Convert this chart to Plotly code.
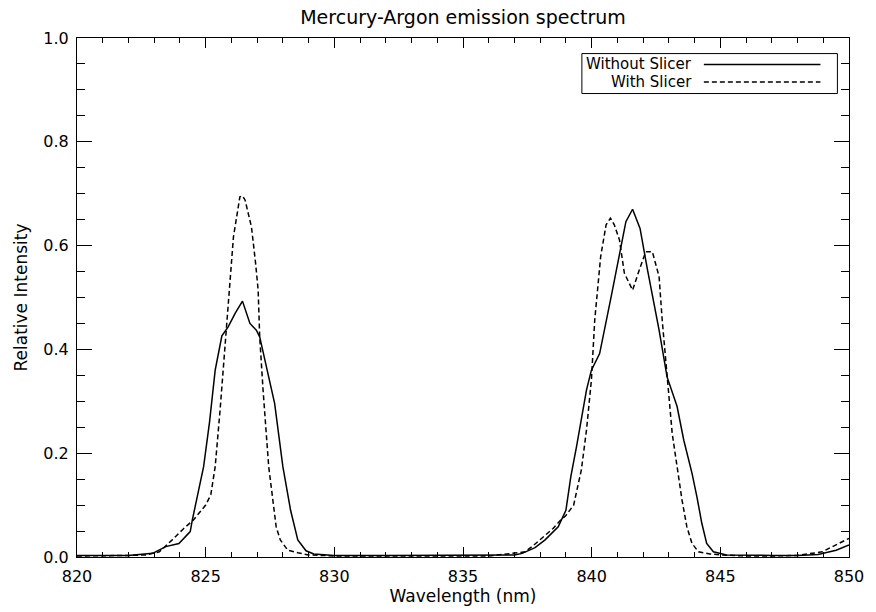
import plotly.graph_objects as go

# Mercury-Argon lamp spectrum, measured without and with the image slicer
wl_without = [820, 821, 822, 822.94, 823.45, 823.96, 824.4, 824.48, 824.7, 824.92,
              825.15, 825.37, 825.63, 825.88, 826.15, 826.43, 826.72, 826.97, 827.1,
              827.36, 827.68, 828.0, 828.3, 828.58, 828.9, 829.2, 829.6, 830, 832, 834,
              836, 837.0, 837.3, 837.8, 838.19, 838.45, 838.7, 839.0, 839.19, 839.41,
              839.6, 839.8, 839.99, 840.31, 840.76, 841.14, 841.33, 841.59, 841.88,
              842.17, 842.62, 842.93, 843.32, 843.58, 843.9, 844.09, 844.28, 844.47,
              844.73, 845.24, 846, 847, 848, 848.8, 849.5, 850]
int_without = [0.003, 0.003, 0.003, 0.007, 0.02, 0.026, 0.049, 0.071, 0.12, 0.174,
               0.26, 0.36, 0.426, 0.444, 0.47, 0.493, 0.45, 0.437, 0.424,
               0.367, 0.296, 0.174, 0.09, 0.033, 0.012, 0.006, 0.004, 0.003, 0.003, 0.003,
               0.003, 0.004, 0.007, 0.018, 0.033, 0.045, 0.058, 0.09, 0.155, 0.212,
               0.265, 0.322, 0.36, 0.392, 0.502, 0.598, 0.646, 0.670, 0.633,
               0.553, 0.437, 0.347, 0.29, 0.225, 0.161, 0.116, 0.065, 0.026,
               0.01, 0.004, 0.003, 0.003, 0.003, 0.005, 0.013, 0.023]

wl_with = [820, 821, 822, 822.68, 823.2, 823.7, 824.15, 824.5, 825.0, 825.2, 825.37,
           825.56, 825.76, 825.88, 826.08, 826.33, 826.43, 826.53, 826.78, 826.94,
           827.04, 827.1, 827.23, 827.45, 827.74, 827.9, 828.19, 828.58, 829, 830, 832,
           834, 836, 836.91, 837.42, 837.8, 838.19, 838.5, 838.77, 839.0, 839.3, 839.5,
           839.6, 839.8, 839.99, 840.12, 840.35, 840.56, 840.73, 840.88, 841.08, 841.27,
           841.59, 841.85, 842.1, 842.36, 842.62, 842.74, 842.93, 843.13, 843.32, 843.51,
           843.7, 843.9, 844.15, 844.6, 845, 846, 847, 848, 848.96, 849.47, 850]
int_with = [0.002, 0.002, 0.003, 0.004, 0.01, 0.033, 0.055, 0.07, 0.1, 0.12, 0.174,
            0.283, 0.41, 0.489, 0.617, 0.694, 0.696, 0.688, 0.636, 0.566,
            0.514, 0.424, 0.322, 0.174, 0.058, 0.033, 0.013, 0.008, 0.004, 0.002, 0.002,
            0.002, 0.002, 0.007, 0.01, 0.025, 0.042, 0.055, 0.07, 0.08, 0.1, 0.148,
            0.168, 0.245, 0.341, 0.457, 0.579, 0.64, 0.653, 0.64, 0.611, 0.547,
            0.514, 0.553, 0.588, 0.588, 0.54, 0.457, 0.347, 0.238, 0.174, 0.11,
            0.058, 0.026, 0.01, 0.006, 0.004, 0.002, 0.002, 0.003, 0.01, 0.023, 0.036]

series_names = ["Without Slicer", "With Slicer"]
x_ticks = [820, 825, 830, 835, 840, 845, 850]
y_ticks = [0.0, 0.2, 0.4, 0.6, 0.8, 1.0]

FONT = "DejaVu Sans"
LINE_W = 1.5
DASH = "5px,3px"

fig = go.Figure()
fig.add_trace(go.Scatter(x=wl_without, y=int_without, mode="lines",
                         name=series_names[0], showlegend=False,
                         line=dict(color="black", width=LINE_W)))
fig.add_trace(go.Scatter(x=wl_with, y=int_with, mode="lines",
                         name=series_names[1], showlegend=False,
                         line=dict(color="black", width=LINE_W, dash=DASH)))

# Boxed key in the upper right: right-aligned labels followed by line samples
box_x0, box_x1, box_y0, box_y1 = 0.654, 0.985, 0.893, 0.970
label_x = 0.799
sample_x0, sample_x1 = 0.812, 0.963
rows_y = [0.949, 0.915]
styles = [None, DASH]

shapes = [dict(type="rect", xref="paper", yref="paper",
               x0=box_x0, x1=box_x1, y0=box_y0, y1=box_y1,
               line=dict(color="black", width=1), fillcolor="white", layer="above")]
annotations = []
for name, ry, dash in zip(series_names, rows_y, styles):
    line = dict(color="black", width=LINE_W)
    if dash:
        line["dash"] = dash
    shapes.append(dict(type="line", xref="paper", yref="paper",
                       x0=sample_x0, x1=sample_x1, y0=ry, y1=ry,
                       line=line, layer="above"))
    annotations.append(dict(text=name, xref="paper", yref="paper",
                            x=label_x, y=ry, xanchor="right", yanchor="middle",
                            showarrow=False, font=dict(family=FONT, size=15, color="black")))

axis_common = dict(showline=True, linecolor="black", linewidth=1, mirror="ticks",
                   ticks="inside", tickcolor="black", showgrid=False, zeroline=False,
                   tickfont=dict(family=FONT, size=16, color="black"))

fig.update_layout(
    width=876, height=612,
    margin=dict(l=77, r=19, t=38, b=55),
    paper_bgcolor="white", plot_bgcolor="white",
    title=dict(text="Mercury-Argon emission spectrum", x=0.5, xref="paper",
               y=1 - 17 / 612, yanchor="middle",
               font=dict(family=FONT, size=19, color="black")),
    xaxis=dict(range=[820, 850], tickvals=x_ticks, ticklen=10, ticklabelstandoff=5,
               minor=dict(dtick=1, ticklen=5, ticks="inside", tickcolor="black"),
               title=dict(text="Wavelength (nm)", standoff=0,
                          font=dict(family=FONT, size=17, color="black")),
               **axis_common),
    yaxis=dict(range=[0, 1], tickvals=y_ticks, tickformat=".1f", ticklen=15,
               ticklabelstandoff=4,
               minor=dict(dtick=0.05, ticklen=8, ticks="inside", tickcolor="black"),
               title=dict(text="Relative Intensity", standoff=11,
                          font=dict(family=FONT, size=17, color="black")),
               **axis_common),
    shapes=shapes,
    annotations=annotations,
)

fig.write_html("out.html")
